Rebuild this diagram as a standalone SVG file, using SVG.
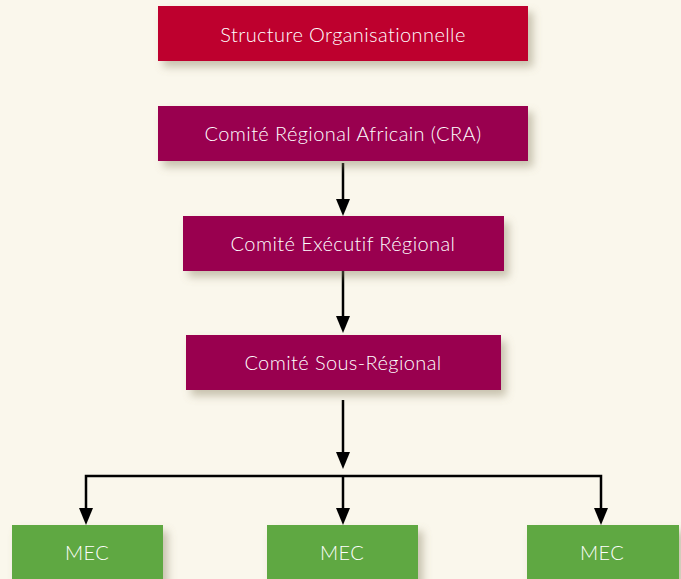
<svg xmlns="http://www.w3.org/2000/svg" width="681" height="579" viewBox="0 0 681 579">
<defs>
<filter id="sh" x="-10%" y="-30%" width="130%" height="180%">
<feDropShadow dx="5" dy="6" stdDeviation="4" flood-color="#8a8060" flood-opacity="0.45"/>
</filter>
<style>
.t{font-family:Lato,"Liberation Sans",sans-serif;font-size:20px;font-weight:300;letter-spacing:0.4px;fill:#fff;text-anchor:middle}
.c{stroke:#000;stroke-width:2.5;fill:none}
.h{fill:#000}
</style>
</defs>
<rect width="681" height="579" fill="#FAF7EC"/>
<g id="connectors">
<path class="c" d="M343,163 V203"/>
<path class="h" d="M336,199 L350,199 L343,216 Z"/>
<path class="c" d="M343,263 V320"/>
<path class="h" d="M336,316 L350,316 L343,333 Z"/>
<path class="c" d="M343,400 V455"/>
<path class="h" d="M336,452 L350,452 L343,469 Z"/>
<path class="c" d="M86,512 V476 H601 V512"/>
<path class="c" d="M343,476 V512"/>
<path class="h" d="M79,508 L93,508 L86,525 Z"/>
<path class="h" d="M336,508 L350,508 L343,525 Z"/>
<path class="h" d="M594,508 L608,508 L601,525 Z"/>
</g>
<g id="title"><rect x="158" y="6" width="370" height="55" fill="#BE002D" filter="url(#sh)"/><text class="t" x="343" y="42">Structure Organisationnelle</text></g>
<g id="cra"><rect x="158" y="106" width="370" height="55" fill="#990050" filter="url(#sh)"/><text class="t" x="343" y="141">Comité Régional Africain (CRA)</text></g>
<g id="cer"><rect x="183" y="216" width="321" height="55" fill="#990050" filter="url(#sh)"/><text class="t" x="343" y="251">Comité Exécutif Régional</text></g>
<g id="csr"><rect x="186" y="335" width="315" height="55" fill="#990050" filter="url(#sh)"/><text class="t" x="343" y="370">Comité Sous-Régional</text></g>
<g id="mec1"><rect x="12" y="525" width="151" height="60" fill="#5FA843" filter="url(#sh)"/><text class="t" x="87" y="560">MEC</text></g>
<g id="mec2"><rect x="267" y="525" width="151" height="60" fill="#5FA843" filter="url(#sh)"/><text class="t" x="342" y="560">MEC</text></g>
<g id="mec3"><rect x="527" y="525" width="152" height="60" fill="#5FA843" filter="url(#sh)"/><text class="t" x="602" y="560">MEC</text></g>
</svg>
